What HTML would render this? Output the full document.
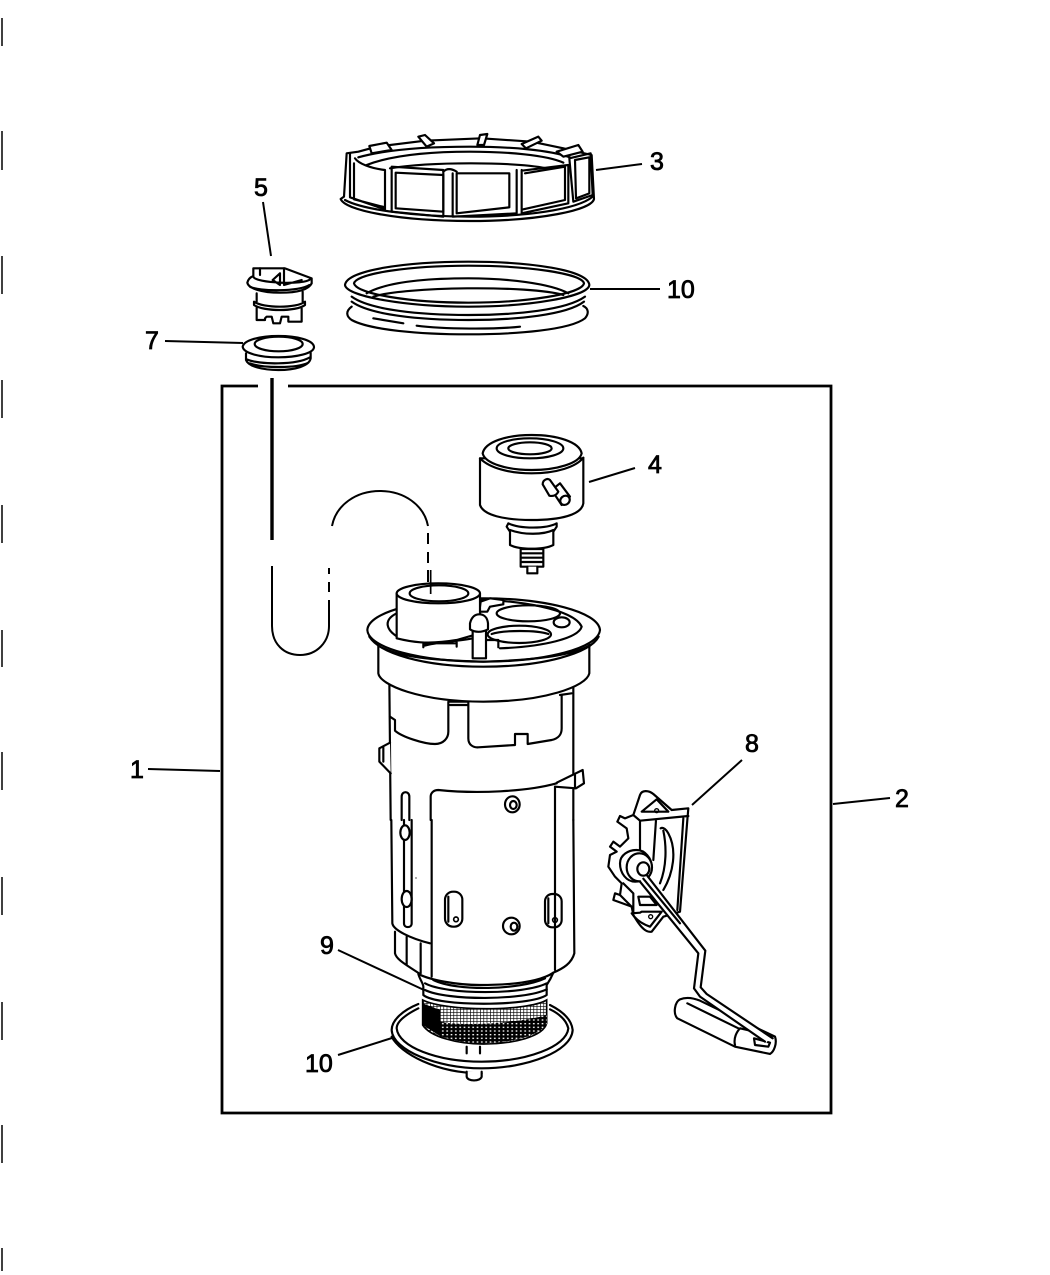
<!DOCTYPE html>
<html><head><meta charset="utf-8"><style>
html,body{margin:0;padding:0;background:#fff}
svg{display:block}
text{font-family:"Liberation Sans",sans-serif;font-size:25px;fill:#000;stroke:#000;stroke-width:.8}
.z{fill:none;stroke:#000;stroke-width:6.5;stroke-linejoin:round;stroke-linecap:round}
.w{fill:#fff}
.t{stroke-width:4}
.l{fill:none;stroke:#000;stroke-width:2}
</style></head><body>
<svg width="1050" height="1275" viewBox="0 0 1050 1275" xmlns="http://www.w3.org/2000/svg">
<defs>
<pattern id="mesh" width="10" height="9" patternUnits="userSpaceOnUse"><rect width="10" height="9" fill="#fff"/><path d="M0 0H10M0 0V9" stroke="#000" stroke-width="4"/></pattern>
<pattern id="mesh2" width="13" height="11" patternUnits="userSpaceOnUse"><rect width="13" height="11" fill="#000"/><rect x="4" y="4" width="5" height="4" fill="#fff"/></pattern>
</defs>
<!-- left ticks -->
<g stroke="#000" stroke-width="1.5">
<path d="M2 18V46M2 131V170M2 256V294M2 380V418M2 505V543M2 630V667M2 752V790M2 877V915M2 1002V1040M2 1125V1163M2 1248V1271"/>
</g>
<!-- box -->
<path d="M258 386H222V1113H831V386H288" fill="none" stroke="#000" stroke-width="2.8"/>
<!-- leaders -->
<g class="l">
<path d="M596 170L642 164M590 289H660M263 202L271 256M165 341L243 343M589 482L635 468M692 805L742 760M148 769L220 771M833 804L890 798M338 950L424 990M338 1055L392 1038"/>
</g>
<!-- hoses -->
<path d="M272 378V540" fill="none" stroke="#000" stroke-width="3.4"/>
<path d="M272 566V626C272 644 284 655 300 655C317 655 329 642 329 626V600M329 592V582M329 574V568" fill="none" stroke="#000" stroke-width="2"/>
<path d="M332 526C336 505 356 491 380 491C404 491 424 505 428 526M428 533V544M428 552V563M428 570V582" fill="none" stroke="#000" stroke-width="2"/>

<!-- top group -->
<g transform="translate(230,120) scale(.33333)">
<!-- lock ring -->
<path class="z w" d="M332 237C345 270 500 303 720 303C930 303 1085 270 1092 237L1085 105L1020 90L1000 85L905 65L755 55L585 62L440 80L385 95L350 100L342 230Z"/>
<path class="z" d="M345 240C400 270 560 290 720 290C880 290 1040 270 1088 230"/>
<path class="z" d="M385 112C480 85 620 80 720 80C840 80 960 90 1020 112M410 135C500 100 630 95 720 95C830 95 950 105 1000 128M480 145C600 125 850 125 950 145"/>
<path class="z" d="M360 100V232L465 268V150C420 145 385 130 375 115M372 130V238L465 262"/>
<path class="z" d="M485 140V275L640 290V150Z"/>
<path class="z" d="M497 158L640 165V275L497 265ZM680 160L838 160V262L680 280Z"/>
<path class="z" d="M668 160V290L860 280V150M640 155Q655 140 680 155M875 150V280L1015 250V135L875 152M885 160L1005 140V240L880 268"/>
<path class="z" d="M1018 115L1082 100L1088 225L1030 245ZM1035 120L1078 112L1078 220L1038 235Z"/>
<path class="z w" d="M418 78L470 68L485 90L425 100ZM565 50L585 45L612 70L590 80ZM750 45L772 42L762 75L742 75ZM875 72L925 50L935 62L888 85ZM980 95L1045 75L1058 95L1000 110Z"/>
<!-- gasket ring -->
<path class="z" d="M345 495C350 450 530 425 715 425C900 425 1075 450 1078 495C1075 530 900 560 715 560C530 560 350 530 345 495Z"/>
<path class="z" d="M372 490C380 460 540 437 715 437C890 437 1055 460 1062 490C1055 522 890 548 715 548C540 548 380 522 372 490Z"/>
<path class="z" d="M410 520C480 480 620 475 715 475C830 475 960 490 1015 520M430 530C520 500 900 495 1000 525"/>
<path class="z" d="M365 530C420 570 570 585 715 585C860 585 1010 570 1065 530M365 545C420 585 570 600 715 600C860 600 1010 585 1062 545"/>
<path class="z" d="M365 560C345 575 350 590 365 600C420 630 570 643 715 643C860 643 1020 630 1065 595C1078 580 1075 565 1060 558M520 610L430 595M560 617C640 628 800 628 870 620"/>
<!-- part 5 -->
<path class="z" d="M70 445H165L245 475V490C235 510 200 518 150 518C95 518 55 505 52 488C55 475 65 470 70 468Z"/>
<path class="z" d="M70 470C75 490 225 495 240 478M60 500C85 515 210 515 238 495M90 445V465M128 480L150 460V495L128 480M162 445V495L215 480"/>
<path class="z" d="M80 520V545M218 515V545M72 545C100 565 200 565 225 545V555C200 575 100 575 72 555ZM80 560V600H105V595L110 590H125L130 610H150L155 590H175V605H215V565"/>
<!-- part 7 -->
<path class="z w" d="M38 680C42 660 90 648 145 648C200 648 252 660 252 682C250 700 200 712 145 712C90 712 40 700 38 680Z"/>
<ellipse class="z" cx="146" cy="672" rx="72" ry="22"/>
<path class="z" d="M48 700V720C55 740 100 750 145 750C195 750 238 738 242 715V698M50 718C90 735 200 735 240 712M60 730C100 745 200 745 235 728"/>
</g>

<!-- part 4 regulator -->
<g transform="translate(460,425) scale(.33333)">
<path class="z w" d="M60 100V240C70 270 130 285 215 285C300 285 365 270 370 235V100Z"/>
<path class="z w" d="M68 85C75 50 140 30 215 30C290 30 358 50 365 85C358 115 290 135 215 135C140 135 75 115 68 85Z"/>
<path class="z" d="M60 100C90 130 150 145 215 145C290 145 350 125 370 98"/>
<ellipse class="z" cx="210" cy="70" rx="100" ry="30"/>
<ellipse class="z" cx="210" cy="70" rx="65" ry="18"/>
<!-- fitting -->
<path class="z w" d="M275 195L300 175L330 215L305 240Z"/>
<ellipse class="z w" cx="315" cy="226" rx="15" ry="13" transform="rotate(-40 315 226)"/>
<path class="z w" d="M248 178C248 165 262 158 270 165L295 200C290 210 280 215 268 212Z"/>
<path class="z w" d="M145 295C180 312 260 312 290 295V305L280 320V360C250 375 180 375 150 360V320L140 305Z"/>
<path class="z" d="M150 315C190 330 250 330 280 315"/>
<path class="z w" d="M182 372V425H250V372ZM182 385H250M182 398H250M182 411H250"/>
<path class="z w" d="M202 425V445H232V425"/>
</g>

<!-- pump upper -->
<g transform="translate(360,570) scale(.33333)">
<path class="z" d="M88 330L92 750M640 330V750"/>
<path class="z w" d="M55 225V310C60 345 180 395 370 395C550 395 680 350 688 310V225"/>
<path class="z w" d="M22 180C25 125 185 85 370 85C555 85 715 125 720 180C715 235 555 275 370 275C185 275 25 235 22 180Z"/>
<path class="z" d="M28 200C60 250 190 290 370 290C550 290 690 250 716 200M60 230C120 260 200 270 370 275C540 270 640 255 690 225"/>
<path class="z" d="M110 130C70 150 75 180 120 205M365 90C460 90 640 115 665 170C655 205 550 230 420 235"/>
<path class="z" d="M190 220H290M190 228C230 215 290 215 338 205M290 215V230M380 210H415V232M190 222V232"/>
<ellipse class="z" cx="505" cy="130" rx="95" ry="24"/>
<ellipse class="z" cx="478" cy="193" rx="95" ry="26"/>
<path class="z" d="M395 192C430 180 530 180 565 192"/>
<ellipse class="z" cx="605" cy="157" rx="24" ry="15"/>
<path class="z w" d="M362 95L390 85L430 90V103L390 110L382 125H358Z"/>
<path class="z w" d="M110 70V205C150 215 200 225 290 210L360 190V70Z"/>
<ellipse class="z w" cx="235" cy="70" rx="125" ry="30"/>
<ellipse class="z" cx="237" cy="70" rx="88" ry="24"/>
<path d="M212 0V72" stroke="#000" stroke-width="5"/>
<path class="z w" d="M338 175V265H378V175"/>
<path class="z w" d="M330 178V160C335 140 345 133 358 133C372 133 382 142 384 160V178C365 188 345 188 330 178Z"/>
<path class="z" d="M90 440L105 450V482C125 500 190 522 225 522C250 522 265 505 265 485V395H325V505C325 525 340 533 355 532L465 525V492H503V522L575 510C595 505 605 495 605 475V375M270 405H325"/>
<path class="z w" d="M90 518L58 535V575L92 610"/>
<path class="z" d="M70 532V575"/>
<path class="z w" d="M590 638L668 600L672 640L648 655L585 650"/>
<path class="z" d="M645 615V655M600 375L635 370"/>
<path class="z" d="M212 750V680C212 668 222 660 235 660C350 672 500 665 590 640M585 650V750"/>
<path class="z" d="M125 750V680C125 662 148 662 148 680V750"/>
<ellipse class="z" cx="457" cy="703" rx="22" ry="24"/>
<ellipse class="z" cx="460" cy="705" rx="10" ry="12"/>
</g>

<!-- pump lower -->
<g transform="translate(380,820) scale(.33333)">
<path class="z" d="M34 0L37 310C40 330 90 355 150 370M580 0L583 400C575 430 550 445 520 458"/>
<path class="z" d="M155 0V470M525 0V450M72 0V310C72 325 95 325 95 310V0"/>
<ellipse class="z w" cx="75" cy="38" rx="14" ry="22"/>
<ellipse class="z w" cx="80" cy="237" rx="15" ry="24"/>
<path class="z" d="M45 335V400C50 420 80 435 120 462M80 350V435M122 370V460"/>
<rect class="z" x="195" y="215" width="52" height="105" rx="24"/>
<path class="z" d="M205 230V305"/>
<circle cx="228" cy="298" r="7" fill="none" stroke="#000" stroke-width="5"/>
<rect class="z" x="495" y="222" width="50" height="100" rx="22"/>
<path class="z" d="M505 235V310"/>
<circle cx="525" cy="300" r="7" fill="none" stroke="#000" stroke-width="5"/>
<ellipse class="z" cx="394" cy="318" rx="25" ry="25"/>
<ellipse class="z" cx="402" cy="320" rx="10" ry="12"/>
<circle cx="108" cy="174" r="2" fill="#000"/>
<!-- disc -->
<path class="z" d="M115 552C70 570 35 600 35 630C38 690 170 745 305 745C440 745 575 695 578 630C575 600 550 575 510 555"/>
<path class="z" d="M115 565C75 585 50 605 50 625C55 680 170 725 305 725C440 725 560 680 565 625C560 605 545 585 510 568"/>
<path class="z" d="M35 650C60 700 170 760 305 760" stroke-width="4"/>
<!-- strainer -->
<path d="M128 540V615C150 650 230 672 310 672C400 672 490 650 500 610V540C440 575 200 575 128 540Z" fill="url(#mesh)" stroke="#000" stroke-width="5"/>
<path d="M128 550L180 570V648L128 615Z" fill="#000"/>
<path d="M180 605C240 620 420 610 500 585V612C480 645 400 668 310 670C260 670 220 662 180 648Z" fill="url(#mesh2)"/>
<path class="z w" d="M115 462C120 480 130 490 130 500V525C170 560 450 560 500 525V495C510 480 515 470 520 458C480 485 400 495 300 495C230 495 150 480 115 462Z"/>
<path class="z" d="M135 490C200 525 430 525 500 490M135 510C200 542 430 542 500 508M160 480C230 515 420 510 495 475"/>
<path class="z" d="M260 680V700M300 680V700"/>
<path class="z w" d="M260 755V770C262 785 302 785 305 770V755"/>
</g>

<!-- sender -->
<g transform="translate(600,780) scale(.33333)">
<path class="z w" d="M100 105L120 45C125 30 145 30 160 42L215 90L265 85L262 120L240 395L190 410L155 455C140 458 125 448 100 405L95 380L40 360L45 340L60 345L65 310L45 290L25 260L30 225L50 215L30 200L40 185L60 200L85 175L80 145L52 125L60 108L75 115Z"/>
<path class="z" d="M120 122L265 108M168 120L160 240M250 115L232 390"/>
<path class="z" d="M125 95L170 58L205 95ZM100 105L120 122V230"/>
<circle cx="170" cy="92" r="6" fill="none" stroke="#000" stroke-width="4"/>
<path class="z" d="M182 145C190 140 200 150 205 160C232 210 220 280 190 330M190 152C200 200 200 260 180 310"/>
<path class="z w" d="M60 250C60 225 85 210 110 210C135 210 155 235 155 260C155 290 130 305 105 305C80 305 60 280 60 250Z"/>
<ellipse class="z w" cx="118" cy="262" rx="38" ry="42"/>
<ellipse class="z w" cx="130" cy="267" rx="18" ry="20"/>
<path class="z" d="M115 350H150L170 375H120ZM95 400C105 415 120 430 150 440L185 395H125L120 398Z"/>
<circle cx="152" cy="410" r="6" fill="none" stroke="#000" stroke-width="4"/>
<path class="z" d="M70 310L100 340V400M60 345L100 385"/>
<!-- float -->
<path class="z w" d="M240 658C225 665 218 700 232 715L405 800L510 822C522 815 532 790 525 770L420 720L300 662C275 652 255 652 240 658Z"/>
<path class="z" d="M262 670L415 745M405 795C400 775 410 755 420 745L520 768M462 775L510 788L505 800L465 795Z"/>
<!-- rod -->
<path d="M130 295L305 515L292 625L310 645L505 780" fill="none" stroke="#fff" stroke-width="22"/>
<path class="z" d="M120 305L295 520L282 625L300 650L495 785M140 285L316 512L302 622L320 642L518 775"/>
<path class="z" d="M130 296L240 430"/>
</g>

<!-- labels -->
<text x="650" y="170">3</text>
<text x="254" y="196">5</text>
<text x="667" y="298">10</text>
<text x="145" y="349">7</text>
<text x="648" y="473">4</text>
<text x="745" y="752">8</text>
<text x="130" y="778">1</text>
<text x="895" y="807">2</text>
<text x="320" y="954">9</text>
<text x="305" y="1072">10</text>
</svg>
</body></html>
